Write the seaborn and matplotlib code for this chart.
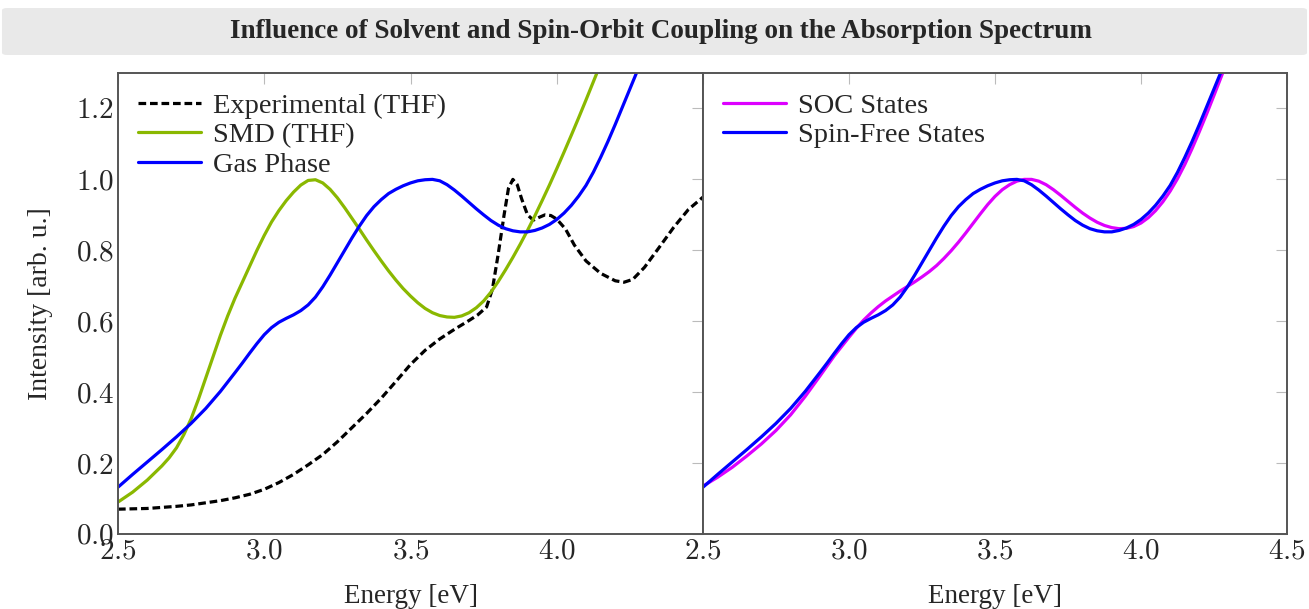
import numpy as np
import pandas as pd
import matplotlib
matplotlib.use("Agg")
import matplotlib.pyplot as plt
from matplotlib.patches import FancyBboxPatch
from matplotlib.ticker import FuncFormatter
import seaborn as sns

# ---------------- data ----------------
exp_energy = [2.50, 2.55, 2.60, 2.65, 2.70, 2.75, 2.80, 2.85, 2.90, 2.95, 3.00, 3.05,
              3.10, 3.15, 3.20, 3.25, 3.30, 3.35, 3.40, 3.45, 3.50, 3.55, 3.60, 3.65,
              3.70, 3.73, 3.76, 3.78, 3.80, 3.82, 3.835, 3.85, 3.865, 3.88, 3.90, 3.92,
              3.94, 3.96, 3.98, 4.00, 4.03, 4.06, 4.10, 4.15, 4.20, 4.23, 4.26, 4.30,
              4.35, 4.40, 4.45, 4.50]
exp_intensity = [0.070, 0.071, 0.072, 0.075, 0.078, 0.082, 0.088, 0.094, 0.102, 0.112,
                 0.126, 0.145, 0.168, 0.195, 0.224, 0.260, 0.300, 0.340, 0.383, 0.430,
                 0.478, 0.518, 0.550, 0.577, 0.602, 0.618, 0.640, 0.690, 0.790, 0.900,
                 0.975, 1.000, 0.985, 0.945, 0.900, 0.885, 0.893, 0.900, 0.898, 0.888,
                 0.860, 0.815, 0.770, 0.735, 0.714, 0.710, 0.718, 0.752, 0.808, 0.865,
                 0.915, 0.950]

smd_energy = [2.500, 2.550, 2.600, 2.650, 2.675, 2.700, 2.725, 2.750, 2.775, 2.800,
              2.825, 2.850, 2.875, 2.900, 2.925, 2.950, 2.975, 3.000, 3.025, 3.050,
              3.075, 3.100, 3.125, 3.150, 3.175, 3.200, 3.225, 3.250, 3.275, 3.300,
              3.325, 3.350, 3.375, 3.400, 3.425, 3.450, 3.475, 3.500, 3.525, 3.550,
              3.575, 3.600, 3.625, 3.650, 3.675, 3.700, 3.725, 3.750, 3.775, 3.800,
              3.825, 3.850, 3.875, 3.900, 3.925, 3.950, 3.975, 4.000, 4.025, 4.050,
              4.075, 4.100, 4.125, 4.150, 4.200]
smd_intensity = [0.090, 0.118, 0.152, 0.192, 0.215, 0.243, 0.280, 0.325, 0.380, 0.440,
                 0.500, 0.560, 0.615, 0.665, 0.710, 0.755, 0.800, 0.842, 0.880, 0.912,
                 0.940, 0.964, 0.984, 0.997, 0.999, 0.990, 0.972, 0.948, 0.920, 0.890,
                 0.860, 0.829, 0.799, 0.770, 0.742, 0.716, 0.692, 0.671, 0.652, 0.636,
                 0.624, 0.616, 0.612, 0.611, 0.615, 0.624, 0.638, 0.657, 0.682, 0.712,
                 0.745, 0.780, 0.817, 0.856, 0.897, 0.940, 0.984, 1.030, 1.077, 1.125,
                 1.174, 1.224, 1.275, 1.326, 1.430]

gas_energy = [2.500, 2.550, 2.600, 2.650, 2.700, 2.750, 2.800, 2.850, 2.900, 2.925,
              2.950, 2.975, 3.000, 3.025, 3.050, 3.075, 3.100, 3.125, 3.150, 3.175,
              3.200, 3.225, 3.250, 3.275, 3.300, 3.325, 3.350, 3.375, 3.400, 3.425,
              3.450, 3.475, 3.500, 3.525, 3.550, 3.575, 3.600, 3.625, 3.650, 3.675,
              3.700, 3.725, 3.750, 3.775, 3.800, 3.825, 3.850, 3.875, 3.900, 3.925,
              3.950, 3.975, 4.000, 4.025, 4.050, 4.075, 4.100, 4.125, 4.150, 4.175,
              4.200, 4.225, 4.250, 4.275, 4.300, 4.350]
gas_intensity = [0.132, 0.168, 0.203, 0.238, 0.274, 0.312, 0.354, 0.402, 0.455, 0.482,
                 0.510, 0.537, 0.562, 0.582, 0.597, 0.608, 0.618, 0.630, 0.646, 0.668,
                 0.697, 0.730, 0.765, 0.800, 0.835, 0.868, 0.898, 0.923, 0.943, 0.960,
                 0.972, 0.982, 0.990, 0.996, 0.999, 1.000, 0.996, 0.985, 0.970, 0.953,
                 0.935, 0.917, 0.900, 0.884, 0.871, 0.861, 0.855, 0.852, 0.852, 0.856,
                 0.863, 0.873, 0.887, 0.905, 0.927, 0.953, 0.983, 1.020, 1.062, 1.107,
                 1.155, 1.205, 1.255, 1.305, 1.357, 1.460]

soc_energy = [2.500, 2.550, 2.600, 2.650, 2.700, 2.750, 2.800, 2.850, 2.900, 2.950,
              3.000, 3.025, 3.050, 3.075, 3.100, 3.125, 3.150, 3.175, 3.200, 3.225,
              3.250, 3.275, 3.300, 3.325, 3.350, 3.375, 3.400, 3.425, 3.450, 3.475,
              3.500, 3.525, 3.550, 3.575, 3.600, 3.625, 3.650, 3.675, 3.700, 3.725,
              3.750, 3.775, 3.800, 3.825, 3.850, 3.875, 3.900, 3.925, 3.950, 3.975,
              4.000, 4.025, 4.050, 4.075, 4.100, 4.125, 4.150, 4.175, 4.200, 4.225,
              4.250, 4.275, 4.300, 4.350]
soc_intensity = [0.135, 0.160, 0.188, 0.220, 0.254, 0.292, 0.336, 0.388, 0.445, 0.503,
                 0.555, 0.580, 0.603, 0.623, 0.641, 0.657, 0.671, 0.685, 0.698, 0.711,
                 0.725, 0.740, 0.757, 0.777, 0.799, 0.823, 0.849, 0.876, 0.903, 0.929,
                 0.952, 0.971, 0.985, 0.995, 1.000, 1.000, 0.995, 0.985, 0.971, 0.955,
                 0.938, 0.921, 0.905, 0.891, 0.879, 0.870, 0.864, 0.861, 0.862, 0.867,
                 0.877, 0.892, 0.912, 0.937, 0.967, 1.002, 1.042, 1.087, 1.135, 1.185,
                 1.237, 1.290, 1.343, 1.450]

spinfree_energy = gas_energy
spinfree_intensity = gas_intensity

x_ticks = [2.5, 3.0, 3.5, 4.0, 4.5]
y_ticks = [0.0, 0.2, 0.4, 0.6, 0.8, 1.0, 1.2]

title = "Influence of Solvent and Spin-Orbit Coupling on the Absorption Spectrum"
xlabel = "Energy [eV]"
ylabel = "Intensity [arb. u.]"

# ---------------- style ----------------
sns.set_theme(style="white")
plt.rcParams['font.family'] = ['Liberation Serif', 'DejaVu Serif']
plt.rcParams['mathtext.fontset'] = 'cm'

W, H = 1309, 609
fig = plt.figure(figsize=(W / 100, H / 100), dpi=100)

bottom = 1 - 534 / H
height = (534 - 73) / H
ax1 = fig.add_axes([118 / W, bottom, 585 / W, height])
ax2 = fig.add_axes([703 / W, bottom, 584 / W, height], sharey=ax1)

lw = 2.3
green = "#8ab800"
blue = "#0000ff"
magenta = "#dd00ff"

df_exp = pd.DataFrame({"E": exp_energy, "I": exp_intensity})
df_smd = pd.DataFrame({"E": smd_energy, "I": smd_intensity})
df_gas = pd.DataFrame({"E": gas_energy, "I": gas_intensity})
df_soc = pd.DataFrame({"E": soc_energy, "I": soc_intensity})
df_sf = pd.DataFrame({"E": spinfree_energy, "I": spinfree_intensity})

sns.lineplot(data=df_exp, x="E", y="I", ax=ax1, color="black", lw=lw,
             linestyle=(0, (2.4, 1.2)), label="Experimental (THF)", sort=False, estimator=None)
sns.lineplot(data=df_smd, x="E", y="I", ax=ax1, color=green, lw=lw,
             label="SMD (THF)", sort=False, estimator=None)
sns.lineplot(data=df_gas, x="E", y="I", ax=ax1, color=blue, lw=lw,
             label="Gas Phase", sort=False, estimator=None)

sns.lineplot(data=df_soc, x="E", y="I", ax=ax2, color=magenta, lw=lw,
             label="SOC States", sort=False, estimator=None)
sns.lineplot(data=df_sf, x="E", y="I", ax=ax2, color=blue, lw=lw,
             label="Spin-Free States", sort=False, estimator=None)

fmt = FuncFormatter(lambda v, p: f"${v:.1f}$")
for ax in (ax1, ax2):
    ax.set_xlim(2.5, 4.5)
    ax.set_ylim(0, 1.3)
    ax.set_xticks(x_ticks)
    ax.set_yticks(y_ticks)
    ax.xaxis.set_major_formatter(fmt)
    ax.yaxis.set_major_formatter(fmt)
    ax.tick_params(direction="in", length=8, width=0.8, color="#bbbbbb",
                   top=True, right=True, labelsize=21, pad=3)
    for s in ax.spines.values():
        s.set_color("#555555")
        s.set_linewidth(1.4)
    ax.set_xlabel(xlabel, fontsize=19.5, labelpad=14)
    ax.set_ylabel("")
    for line in ax.get_lines():
        line.set_solid_capstyle("round")
        line.set_solid_joinstyle("round")
    leg = ax.legend(loc="upper left", frameon=False, fontsize=20.5, handlelength=2.2,
                    handletextpad=0.45, labelspacing=0.12, borderaxespad=0.3,
                    bbox_to_anchor=(0.0, 1.0))

ax1.set_xticklabels(["$2.5$", "$3.0$", "$3.5$", "$4.0$", ""])
ax1.set_ylabel(ylabel, fontsize=20, labelpad=16)
ax2.tick_params(labelleft=False)

# title banner
box = FancyBboxPatch((0.0015, 1 - 55 / H), 0.997, 47 / H,
                     boxstyle="round,pad=0,rounding_size=0.004",
                     transform=fig.transFigure, facecolor="#e9e9e9",
                     edgecolor="none", zorder=0)
fig.patches.append(box)
fig.text(0.505, 1 - 31 / H, title, ha="center", va="center",
         fontsize=19.5, fontweight="bold")

fig.savefig("out.png", dpi=100)
